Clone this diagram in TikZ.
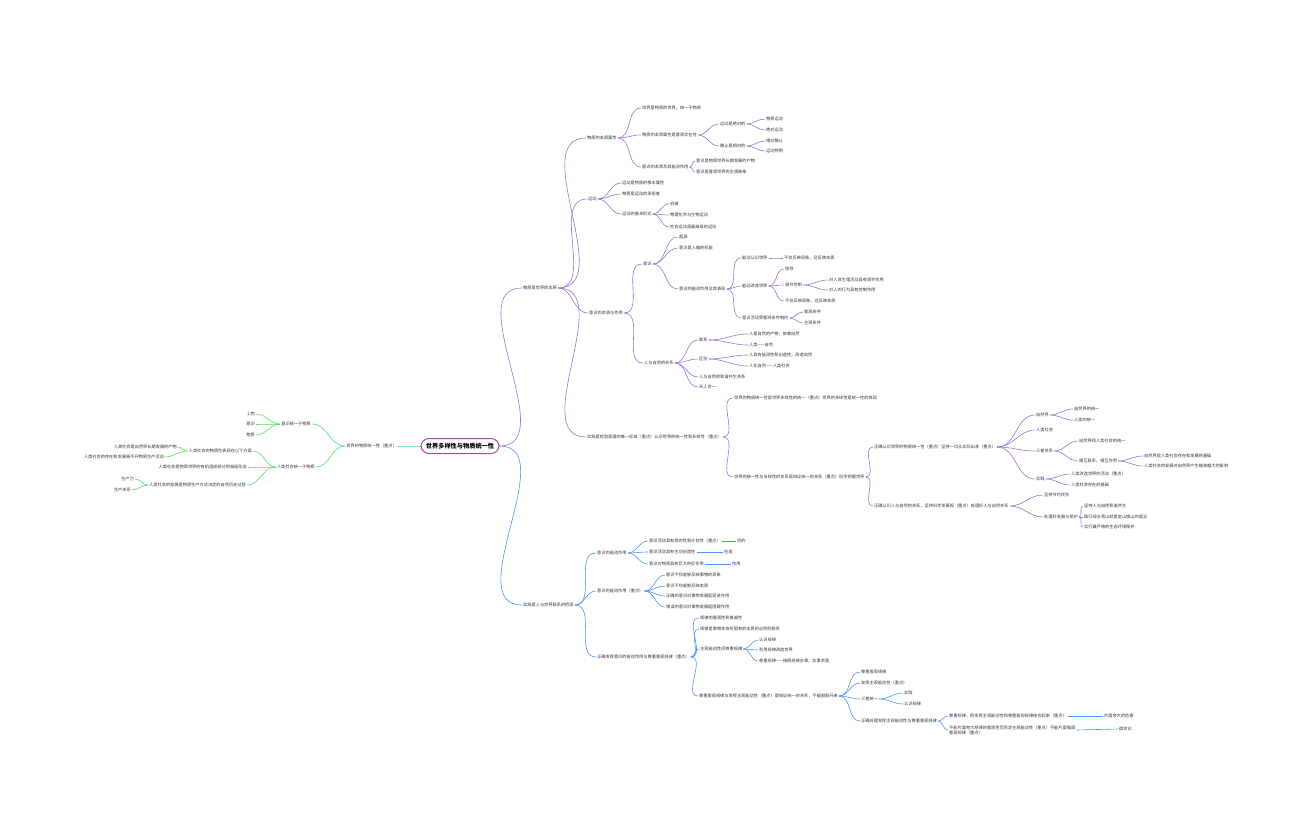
\documentclass[tikz,border=0pt]{standalone}
\usepackage{fontspec}
\setmainfont{Noto Sans CJK SC}
\begin{document}
\begin{tikzpicture}[x=1pt,y=-1pt,
 t/.style={anchor=west,inner sep=1pt,font=\fontsize{4.2}{5}\selectfont,text=black!80},
 tl/.style={t,anchor=east},
 P/.style={draw=violet!60!blue!55,line width=0.6pt},
 B/.style={draw=blue!60!cyan!70,line width=0.6pt},
 G/.style={draw=green!70!teal!70,line width=0.6pt}]
\useasboundingbox (0,0) rectangle (1296,840);
\newcommand\E[3]{\draw[#3] (#1.east) to[out=0,in=180] (#2.west);}
\newcommand\W[3]{\draw[#3] (#1.west) to[out=180,in=0] (#2.east);}
\node[draw=violet!70,line width=1pt,rounded corners=8pt,minimum width=78pt,minimum height=15pt,font=\fontsize{6.2}{7}\bfseries\selectfont] (root) at (460,446) {世界多样性与物质统一性};
% left green
\node[tl] (L) at (398,446) {世界的物质统一性（重点）};
\node[tl] (La) at (312,424) {意识统一于物质};
\node[tl] (La1) at (256,414) {1.物};
\node[tl] (La2) at (256,424) {意识};
\node[tl] (La3) at (256,435) {物质};
\node[tl] (Lb) at (316,467) {人类社会统一于物质};
\node[tl] (Lb1) at (253,451) {人类社会的物质性表现在以下方面};
\node[tl] (Lb11) at (178,447) {人类社会是自然界长期发展的产物};
\node[tl] (Lb12) at (165,457) {人类社会的存在和发展离不开物质生产活动};
\node[tl] (Lb2) at (248,467) {人类社会是物质世界的有机组成部分的高级形态};
\node[tl] (Lb3) at (247,485) {人类社会的发展是物质生产方式决定的自然历史过程};
\node[tl] (Lb31) at (135,479) {生产力};
\node[tl] (Lb32) at (132,490) {生产关系};
\W{root}{L}{G}\W{L}{La}{G}\W{L}{Lb}{G}
\W{La}{La1}{G}\W{La}{La2}{G}\W{La}{La3}{G}
\W{Lb}{Lb1}{G}\W{Lb}{Lb2}{G}\W{Lb}{Lb3}{G}
\W{Lb1}{Lb11}{G}\W{Lb1}{Lb12}{G}\W{Lb3}{Lb31}{G}\W{Lb3}{Lb32}{G}
% right purple
\node[t] (R1) at (522,288) {物质是世界的本原};
\E{root}{R1}{P}
\node[t] (a) at (586,138) {物质的本质属性};
\node[t] (a1) at (641,108) {世界是物质的世界，统一于物质};
\node[t] (a2) at (641,135) {物质的本质属性是客观实在性};
\node[t] (a21) at (719,124) {运动是绝对的};
\node[t] (a211) at (765,119) {物质运动};
\node[t] (a212) at (765,130) {绝对运动};
\node[t] (a22) at (719,146) {静止是相对的};
\node[t] (a221) at (765,141) {相对静止};
\node[t] (a222) at (765,151) {运动特例};
\node[t] (a3) at (641,167) {意识的本质及其能动作用};
\node[t] (a31) at (695,161) {意识是物质世界长期发展的产物};
\node[t] (a32) at (695,172) {意识是客观世界的主观映象};
\E{R1}{a}{P}\E{a}{a1}{P}\E{a}{a2}{P}\E{a}{a3}{P}
\E{a2}{a21}{P}\E{a2}{a22}{P}\E{a21}{a211}{P}\E{a21}{a212}{P}\E{a22}{a221}{P}\E{a22}{a222}{P}
\E{a3}{a31}{P}\E{a3}{a32}{P}
\node[t] (b) at (587,199) {运动};
\node[t] (b1) at (621,183) {运动是物质的根本属性};
\node[t] (b2) at (621,194) {物质是运动的承担者};
\node[t] (b3) at (621,214) {运动的基本形式};
\node[t] (b31) at (669,204) {机械};
\node[t] (b32) at (669,215) {物理化学与生物运动};
\node[t] (b33) at (669,227) {社会运动是最高级的运动};
\E{R1}{b}{P}\E{b}{b1}{P}\E{b}{b2}{P}\E{b}{b3}{P}\E{b3}{b31}{P}\E{b3}{b32}{P}\E{b3}{b33}{P}
\node[t] (c) at (588,313) {意识的本质与作用};
\node[t] (c1) at (642,264) {意识};
\node[t] (c11) at (678,237) {起源};
\node[t] (c12) at (678,248) {意识是人脑的机能};
\node[t] (c13) at (678,289) {意识的能动作用及其表现};
\node[t] (c131) at (741,258) {能动认识世界};
\node[t] (c1311) at (783,258) {不仅反映现象，还反映本质};
\node[t] (c132) at (741,286) {能动改造世界};
\node[t] (c1321) at (784,269) {指导};
\node[t] (c1322) at (784,285) {调节控制};
\node[t] (c13221) at (828,280) {对人体生理活动具有调节作用};
\node[t] (c13222) at (828,290) {对人的行为具有控制作用};
\node[t] (c1323) at (784,301) {不仅反映现象，还反映本质};
\node[t] (c133) at (741,318) {意识活动受客观条件制约};
\node[t] (c1331) at (803,312) {客观条件};
\node[t] (c1332) at (803,323) {主观条件};
\node[t] (c2) at (643,363) {人与自然的关系};
\node[t] (c21) at (698,340) {联系};
\node[t] (c211) at (748,334) {人是自然的产物，依赖自然};
\node[t] (c212) at (748,345) {人类——自然};
\node[t] (c22) at (698,359) {区别};
\node[t] (c221) at (748,355) {人具有能动性和创造性，改造自然};
\node[t] (c222) at (748,366) {人化自然——人类社会};
\node[t] (c23) at (698,377) {人与自然的和谐共生关系};
\node[t] (c24) at (698,387) {天人合一};
\E{R1}{c}{P}\E{c}{c1}{P}\E{c}{c2}{P}
\E{c1}{c11}{P}\E{c1}{c12}{P}\E{c1}{c13}{P}
\E{c13}{c131}{P}\E{c13}{c132}{P}\E{c13}{c133}{P}
\E{c131}{c1311}{P}\E{c132}{c1321}{P}\E{c132}{c1322}{P}\E{c132}{c1323}{P}
\E{c1322}{c13221}{P}\E{c1322}{c13222}{P}\E{c133}{c1331}{P}\E{c133}{c1332}{P}
\E{c2}{c21}{P}\E{c2}{c22}{P}\E{c2}{c23}{P}\E{c2}{c24}{P}
\E{c21}{c211}{P}\E{c21}{c212}{P}\E{c22}{c221}{P}\E{c22}{c222}{P}
\node[t] (d) at (586,437) {实践是检验真理的唯一标准（重点）认识世界的统一性和多样性（重点）};
\node[t] (d1) at (733,398) {世界的物质统一性是世界多样性的统一（重点）世界的多样性是统一性的体现};
\node[t] (d2) at (733,477) {世界的统一性与多样性的关系是辩证统一的关系（重点）科学把握世界};
\node[t] (d21) at (873,447) {正确认识世界的物质统一性（重点）坚持一切从实际出发（重点）};
\node[t] (d211) at (1035,415) {自然界};
\node[t] (d2111) at (1073,409) {自然界的统一};
\node[t] (d2112) at (1073,420) {人类的统一};
\node[t] (d212) at (1035,430) {人类社会};
\node[t] (d213) at (1035,451) {三者关系};
\node[t] (d2131) at (1078,441) {自然界和人类社会的统一};
\node[t] (d2132) at (1078,461) {相互联系、相互作用};
\node[t] (d21321) at (1143,456) {自然界是人类社会存在和发展的基础};
\node[t] (d21322) at (1143,466) {人类社会的发展对自然界产生越来越大的影响};
\node[t] (d214) at (1035,479) {实践};
\node[t] (d2141) at (1070,474) {人类改造世界的活动（重点）};
\node[t] (d2142) at (1070,485) {人类社会存在的基础};
\node[t] (d22) at (873,506) {正确认识人与自然的关系，坚持科学发展观（重点）处理好人与自然关系};
\node[t] (d221) at (1043,495) {坚持节约优先};
\node[t] (d222) at (1043,517) {处理好发展与保护};
\node[t] (d2221) at (1083,506) {坚持人与自然和谐共生};
\node[t] (d2222) at (1083,517) {践行绿水青山就是金山银山的理念};
\node[t] (d2223) at (1083,527) {实行最严格的生态环境保护};
\E{R1}{d}{P}\E{d}{d1}{P}\E{d}{d2}{P}\E{d2}{d21}{P}\E{d2}{d22}{P}
\E{d21}{d211}{P}\E{d21}{d212}{P}\E{d21}{d213}{P}\E{d21}{d214}{P}
\E{d211}{d2111}{P}\E{d211}{d2112}{P}\E{d213}{d2131}{P}\E{d213}{d2132}{P}
\E{d2132}{d21321}{P}\E{d2132}{d21322}{P}\E{d214}{d2141}{P}\E{d214}{d2142}{P}
\E{d22}{d221}{P}\E{d22}{d222}{P}\E{d222}{d2221}{P}\E{d222}{d2222}{P}\E{d222}{d2223}{P}
% right blue
\node[t] (R2) at (522,605) {实践是人与世界联系的桥梁};
\E{root}{R2}{B}
\node[t] (e) at (596,553) {意识的能动作用};
\node[t] (e1) at (648,541) {意识活动具有目的性和计划性（重点）};
\node[t] (e1a) at (736,541) {目的};
\node[t] (e2) at (648,552) {意识活动具有主动创造性};
\node[t] (e2a) at (723,552) {创造};
\node[t] (e3) at (648,564) {意识对物质具有巨大的反作用};
\node[t] (e3a) at (731,564) {作用};
\E{R2}{e}{B}\E{e}{e1}{B}\E{e}{e2}{B}\E{e}{e3}{B}
\draw[B] (e1.east) -- (e1a.west);\draw[B] (e2.east) -- (e2a.west);\draw[B] (e3.east) -- (e3a.west);
\node[t] (f) at (596,591) {意识的能动作用（重点）};
\node[t] (f1) at (665,575) {意识不仅能够反映事物的现象};
\node[t] (f2) at (665,586) {意识不仅能够反映本质};
\node[t] (f3) at (665,596) {正确的意识对事物发展起促进作用};
\node[t] (f4) at (665,607) {错误的意识对事物发展起阻碍作用};
\E{R2}{f}{B}\E{f}{f1}{B}\E{f}{f2}{B}\E{f}{f3}{B}\E{f}{f4}{B}
\node[t] (g) at (596,657) {正确发挥意识的能动作用与尊重客观规律（重点）};
\node[t] (g1) at (699,618) {规律的客观性和普遍性};
\node[t] (g2) at (699,629) {规律是事物本身所固有的本质的必然的联系};
\node[t] (g3) at (699,649) {主观能动性须尊重规律};
\node[t] (g31) at (758,640) {认识规律};
\node[t] (g32) at (758,650) {利用规律改造世界};
\node[t] (g33) at (758,661) {尊重规律——按照规律办事，实事求是};
\node[t] (g4) at (698,696) {尊重客观规律与发挥主观能动性（重点）是辩证统一的关系，不能割裂开来};
\node[t] (g41) at (860,672) {尊重客观规律};
\node[t] (g42) at (860,683) {发挥主观能动性（重点）};
\node[t] (g43) at (860,699) {三者统一};
\node[t] (g431) at (903,693) {实践};
\node[t] (g432) at (903,704) {认识规律};
\node[t] (g44) at (860,721) {正确处理发挥主观能动性与尊重客观规律};
\node[t] (g441) at (948,716) {尊重规律，把发挥主观能动性和尊重客观规律结合起来（重点）};
\node[t] (g441a) at (1103,716) {片面夸大的危害};
\node[t,align=left] (g442) at (948,730) {不能片面夸大规律的客观性而否定主观能动性（重点）不能片面强调\\客观规律（重点）};
\node[t] (g442a) at (1118,729) {宿命论};
\E{R2}{g}{B}\E{g}{g1}{B}\E{g}{g2}{B}\E{g}{g3}{B}\E{g}{g4}{B}
\E{g3}{g31}{B}\E{g3}{g32}{B}\E{g3}{g33}{B}
\E{g4}{g41}{B}\E{g4}{g42}{B}\E{g4}{g43}{B}\E{g4}{g44}{B}
\E{g43}{g431}{B}\E{g43}{g432}{B}\E{g44}{g441}{B}\E{g44}{g442}{B}
\draw[B] (g441.east) -- (g441a.west);\draw[B] (g442.east) -- (g442a.west);
\end{tikzpicture}
\end{document}
